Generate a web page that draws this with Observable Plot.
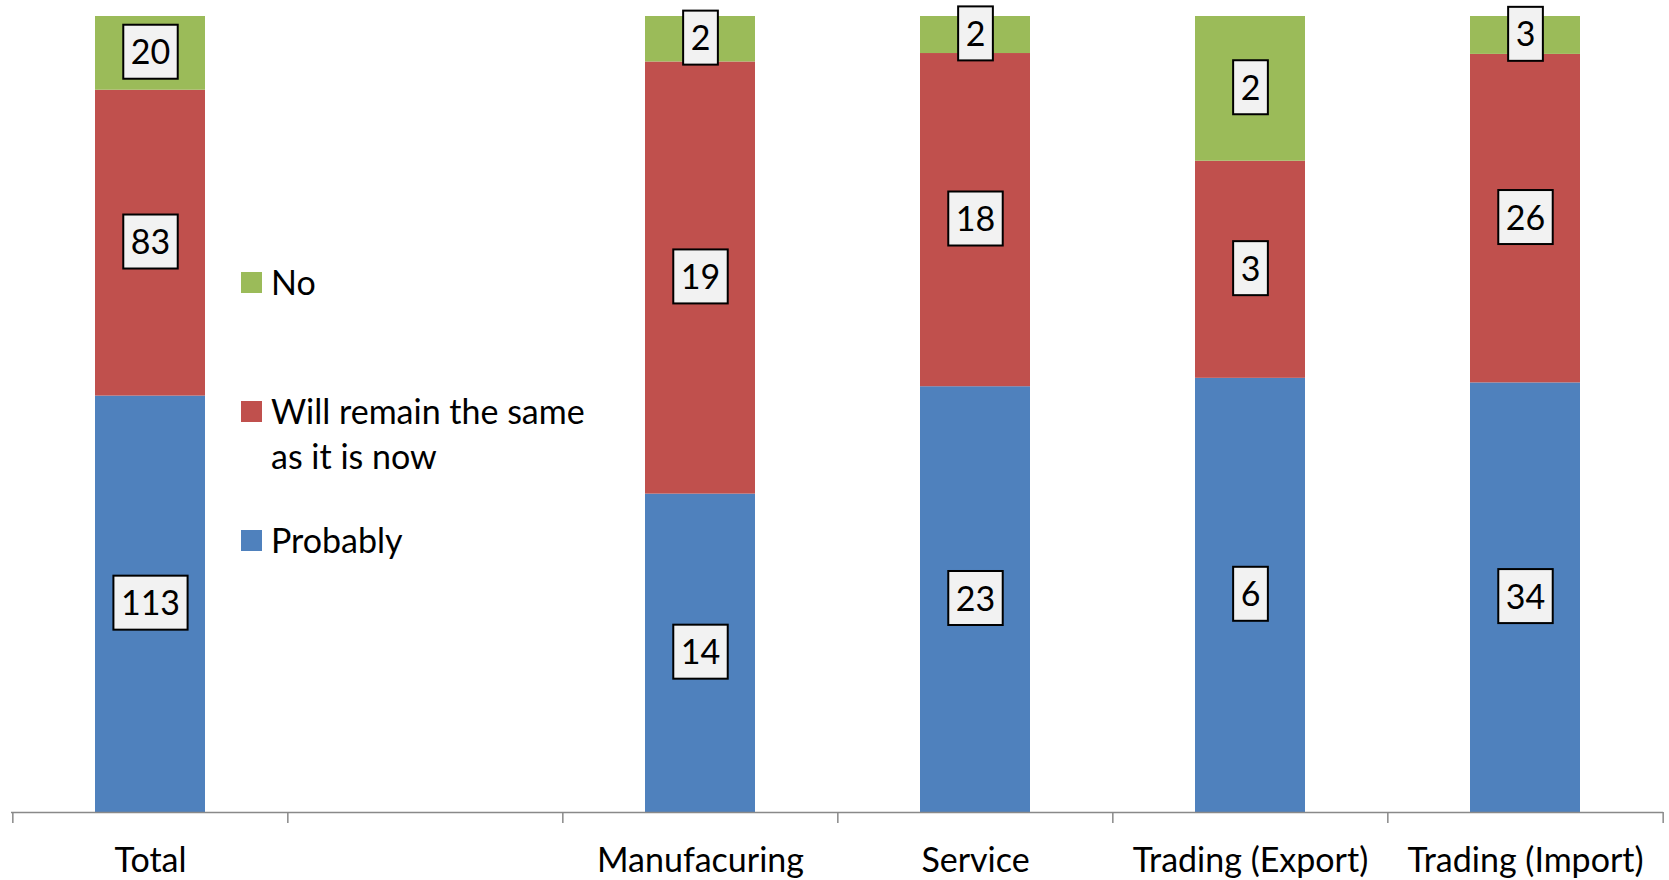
<!DOCTYPE html>
<html><head><meta charset="utf-8">
<script src="https://cdn.jsdelivr.net/npm/d3@7"></script>
<script src="https://cdn.jsdelivr.net/npm/@observablehq/plot@0.6"></script>
<style>
body{margin:0;background:#fff;font-family:Lato,sans-serif;}
#wrap{position:relative;width:1669px;height:880px;overflow:hidden;}
.leg{position:absolute;left:271px;font-size:34px;line-height:45px;color:#000;white-space:nowrap;font-family:Lato,sans-serif;}
.sw{position:absolute;left:241px;width:21px;height:21px;}
</style></head><body><div id="wrap"></div>
<script>
// ---- data ----
const categories = ["Total", " ", "Manufacuring", "Service", "Trading (Export)", "Trading (Import)"];
const barCategories = ["Total", "Manufacuring", "Service", "Trading (Export)", "Trading (Import)"];
const seriesNames = ["Probably", "Will remain the same as it is now", "No"];
const probably = [113, 14, 23, 6, 34];
const remainSame = [83, 19, 18, 3, 26];
const no = [20, 2, 2, 2, 3];
const colors = ["#4F81BD", "#C0504D", "#9BBB59"];
const legendOrder = ["No", "Will remain the same as it is now", "Probably"];
const legendLines = {"No": ["No"], "Will remain the same as it is now": ["Will remain the same", "as it is now"], "Probably": ["Probably"]};

const seriesValues = [probably, remainSame, no];
const data = [];
barCategories.forEach((c, i) => {
  seriesNames.forEach((s, j) => data.push({category: c, response: s, value: seriesValues[j][i]}));
});

const W = 1669, H = 880, mL = 11, mR = 6, mT = 16, mB = 68;
const step = (W - mL - mR) / categories.length;
const plotH = H - mT - mB;
const axisColor = "#898989";

const plot = Plot.plot({
  width: W, height: H,
  marginLeft: mL, marginRight: mR, marginTop: mT, marginBottom: mB,
  style: {fontFamily: "Lato, sans-serif", fontSize: "34px", color: "#000", background: "#fff", overflow: "visible"},
  x: {domain: categories, paddingInner: 0.6, paddingOuter: 0.3, label: null},
  y: {axis: null, domain: [0, 1]},
  color: {domain: seriesNames, range: colors},
  marks: [
    Plot.barY(data, Plot.stackY({x: "category", y: "value", z: "response", fill: "response", order: seriesNames, offset: "normalize"})),
    Plot.ruleY([0], {stroke: axisColor, strokeWidth: 1.5}),
    Plot.ruleX(categories, {x: d => d, dx: -step / 2, insetTop: plotH, insetBottom: -11, stroke: axisColor, strokeWidth: 1.5}),
    Plot.ruleX(categories.slice(-1), {x: d => d, dx: step / 2, insetTop: plotH, insetBottom: -11, stroke: axisColor, strokeWidth: 1.5}),
    Plot.text(data, Plot.stackY({x: "category", y: "value", z: "response", text: "value", order: seriesNames, offset: "normalize", fontSize: 34, fill: "#000"})),
    Plot.axisX({tickSize: 0, tickPadding: 35, fontSize: 34, fill: "#000"})
  ]
});

const wrap = document.getElementById("wrap");
wrap.appendChild(plot);

// boxed labels behind value texts
const ns = "http://www.w3.org/2000/svg";
plot.querySelectorAll('g[aria-label="text"] text').forEach(t => {
  const bb = t.getBBox();
  const cy = bb.y + bb.height / 2 + 1;
  const r = document.createElementNS(ns, "rect");
  const tr = t.getAttribute("transform");
  if (tr) r.setAttribute("transform", tr);
  r.setAttribute("x", bb.x - 7.5);
  r.setAttribute("y", cy - 27);
  r.setAttribute("width", bb.width + 15);
  r.setAttribute("height", 54);
  r.setAttribute("fill", "#F2F2F2");
  r.setAttribute("stroke", "#000");
  r.setAttribute("stroke-width", 2);
  t.parentNode.insertBefore(r, t);
});

// legend overlay
const swatchTops = [272, 401, 530];
legendOrder.forEach((s, i) => {
  const sw = document.createElement("div");
  sw.className = "sw";
  sw.style.top = swatchTops[i] + "px";
  sw.style.background = colors[seriesNames.indexOf(s)];
  wrap.appendChild(sw);
  const tx = document.createElement("div");
  tx.className = "leg";
  tx.style.top = (swatchTops[i] - 13) + "px";
  tx.innerHTML = legendLines[s].join("<br>");
  wrap.appendChild(tx);
});
</script>
</body></html>
